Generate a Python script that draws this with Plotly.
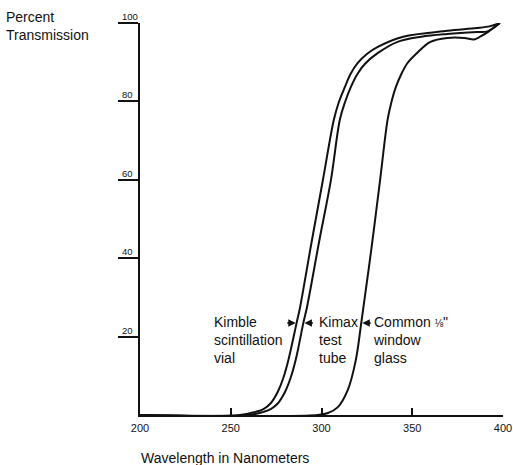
import plotly.graph_objects as go

# Wavelength (nm) and percent transmission
kimble_wl = [200, 255, 263.6, 268.0, 272.0, 276.0, 279.0, 282.0, 286.3, 288.2, 294.5, 300.8, 306.8, 309.4,
             312.9, 316.0, 320.0, 325.0, 331.0, 345.0, 369.3, 385.7, 393.0, 398.3]
kimble_t = [0, 0, 0.8, 1.5, 3.0, 6.0, 9.5, 14.5, 23.5, 27.5, 44.0, 60.0, 75.3, 79.6,
            83.7, 87.0, 89.8, 92.1, 93.9, 96.5, 98.0, 98.7, 99.2, 100.0]

kimax_wl = [200, 260, 268.0, 272.0, 276.0, 280.0, 283.0, 286.0, 290.0, 292.0, 298.6, 305.2, 310.1, 312.8,
            316.2, 319.8, 324.0, 330.9, 341.9, 355.0, 369.3, 385.7, 391.0, 395.0, 398.3]
kimax_t = [0, 0, 0.8, 1.5, 3.0, 6.0, 9.5, 14.5, 23.5, 27.5, 44.0, 60.0, 75.3, 79.6,
           83.7, 87.0, 89.6, 92.3, 95.2, 96.5, 97.2, 97.7, 97.8, 98.8, 100.0]

glass_wl = [200, 298, 303.6, 309.0, 314.5, 318.9, 321.9, 322.9, 327.8, 332.3, 336.4, 338.4, 341.0, 344.0,
            347.4, 352.5, 360.0, 369.3, 378.6, 384.1, 387.4, 392.0, 396.7, 398.3]
glass_t = [0, 0, 0.5, 2.0, 6.4, 14.0, 23.5, 26.8, 43.5, 60.0, 75.3, 79.6, 83.7, 87.0,
           89.8, 92.3, 95.2, 96.2, 96.2, 95.8, 96.5, 97.8, 99.5, 100.0]

x_ticks = [200, 250, 300, 350, 400]
y_ticks = [20, 40, 60, 80, 100]

labels = ["Kimble<br>scintillation<br>vial", "Kimax<br>test<br>tube",
          "Common <span style=\"font-size:10px\">⅛</span>\"<br>window<br>glass"]
label_x = [239.5, 297.3, 327.5]
label_y = 19.1
arrow_head_x = [285.8, 290.6, 322.5]
arrow_head_y = 23.5
arrow_dir = [-10, 10, 10]

FONT = "Liberation Sans, Arial, sans-serif"
INK = "#111111"
PLOT_W = 363

fig = go.Figure()
for wl, t in [(kimble_wl, kimble_t), (kimax_wl, kimax_t), (glass_wl, glass_t)]:
    fig.add_trace(go.Scatter(x=wl, y=t, mode="lines",
                             line=dict(color=INK, width=2, shape="spline", smoothing=1.0),
                             showlegend=False, hoverinfo="skip"))

fig.update_layout(
    width=513, height=465,
    margin=dict(l=140, r=10, t=23, b=50, autoexpand=False),
    paper_bgcolor="white", plot_bgcolor="white",
    font=dict(family=FONT, color=INK),
    xaxis=dict(range=[200, 400], showgrid=False, zeroline=False, automargin=False,
               showline=True, linecolor=INK, linewidth=2,
               ticks="inside", ticklen=7, tickwidth=1.5, tickcolor=INK,
               tickvals=x_ticks, ticktext=[str(v) for v in x_ticks],
               ticklabeloverflow="allow",
               tickfont=dict(size=11, family=FONT, color=INK), ticklabelstandoff=2),
    yaxis=dict(range=[0, 100], showgrid=False, zeroline=False, automargin=False,
               showline=True, linecolor=INK, linewidth=1.5,
               ticks="outside", ticklen=20, tickwidth=1.5, tickcolor=INK,
               tickvals=y_ticks, showticklabels=False),
)

# y tick labels sitting above the tick marks
for v in y_ticks:
    fig.add_annotation(x=-20 / PLOT_W, xref="paper", y=v, yref="y", text=str(v),
                       showarrow=False, xanchor="left", yanchor="bottom",
                       yshift=-1, font=dict(size=9.5, family=FONT, color=INK))

fig.add_annotation(x=-136 / PLOT_W, xref="paper", y=0.992, yref="paper",
                   text="Percent<br>Transmission", showarrow=False, align="left",
                   xanchor="left", yanchor="middle", font=dict(size=14, family=FONT, color=INK))
fig.add_annotation(x=-0.003, xref="paper", y=-0.1097, yref="paper",
                   text="Wavelength in Nanometers", showarrow=False,
                   xanchor="left", yanchor="middle", font=dict(size=14, family=FONT, color=INK))

for txt, lx in zip(labels, label_x):
    fig.add_annotation(x=lx, xref="x", y=label_y, yref="y", text=txt, showarrow=False,
                       align="left", xanchor="left", yanchor="middle",
                       font=dict(size=14, family=FONT, color=INK))

for hx, d in zip(arrow_head_x, arrow_dir):
    fig.add_annotation(x=hx, xref="x", y=arrow_head_y, yref="y", text="",
                       showarrow=True, ax=d, ay=0, arrowhead=2, arrowsize=1,
                       arrowwidth=1.5, arrowcolor=INK, standoff=0)

fig.write_html("out.html")
